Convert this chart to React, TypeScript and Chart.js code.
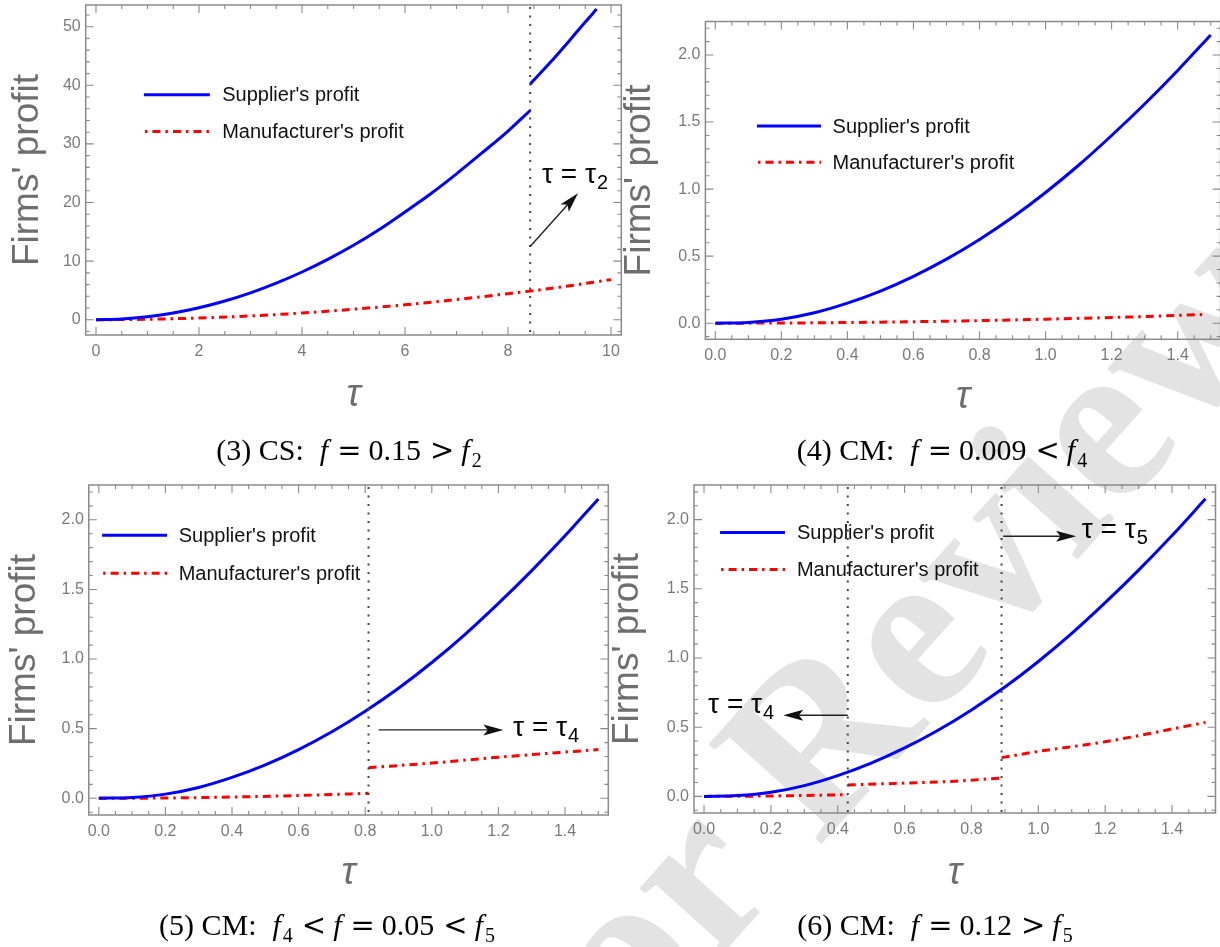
import React, { useEffect, useRef } from "react";
import { Chart, registerables } from "chart.js";

Chart.register(...registerables);
Chart.defaults.font.family = "'Liberation Sans', Arial, sans-serif";

// ---------------- data ----------------
// Panel (3) CS, f = 0.15
const p1SupTauA = [0, 0.5, 1, 1.5, 2, 2.5, 3, 3.5, 4, 4.5, 5, 5.5, 6, 6.5, 7, 7.5, 8, 8.43];
const p1SupA = [0, 0.13, 0.52, 1.15, 2.05, 3.2, 4.6, 6.25, 8.15, 10.3, 12.7, 15.4, 18.4, 21.5, 24.9, 28.5, 32.2, 35.7];
const p1SupTauB = [8.43, 8.8, 9.2, 9.5, 9.72];
const p1SupB = [40.2, 43.7, 47.7, 50.8, 53.0];
const p1ManTau = [0, 1, 2, 3, 4, 5, 6, 7, 8, 8.43, 9, 10];
const p1Man = [0, 0.08, 0.3, 0.65, 1.15, 1.8, 2.55, 3.45, 4.45, 4.9, 5.55, 6.85];

// Supplier's profit under CM (same curve in panels 4, 5, 6)
const cmTau = [0, 0.1, 0.2, 0.3, 0.4, 0.5, 0.6, 0.7, 0.8, 0.9, 1.0, 1.1, 1.2, 1.3, 1.4, 1.5];
const cmSup = [0, 0.006, 0.03, 0.078, 0.15, 0.24, 0.35, 0.478, 0.625, 0.79, 0.975, 1.178, 1.4, 1.635, 1.885, 2.15];

// Panel (4) CM, f = 0.009
const p2ManTau = [0, 0.25, 0.5, 0.75, 1.0, 1.25, 1.48];
const p2Man = [0, 0.002, 0.008, 0.017, 0.03, 0.046, 0.065];

// Panel (5) CM, f = 0.05
const p3ManTauA = [0, 0.2, 0.4, 0.6, 0.81];
const p3ManA = [0, 0.002, 0.009, 0.02, 0.036];
const p3ManTauB = [0.81, 1.0, 1.2, 1.5];
const p3ManB = [0.22, 0.253, 0.295, 0.35];

// Panel (6) CM, f = 0.12
const p4ManTauA = [0, 0.2, 0.43];
const p4ManA = [0, 0.003, 0.012];
const p4ManTauB = [0.43, 0.6, 0.75, 0.89];
const p4ManB = [0.083, 0.096, 0.11, 0.133];
const p4ManTauC = [0.89, 1.0, 1.2, 1.5];
const p4ManC = [0.28, 0.325, 0.395, 0.535];

// thresholds (dotted lines)
const p1Thresholds = [8.43];
const p3Thresholds = [0.81];
const p4Thresholds = [0.43, 0.89];

// ticks
const csXTicks = [0, 2, 4, 6, 8, 10];
const csXLabels = ["0", "2", "4", "6", "8", "10"];
const csYTicks = [0, 10, 20, 30, 40, 50];
const csYLabels = ["0", "10", "20", "30", "40", "50"];
const cmXTicks = [0, 0.2, 0.4, 0.6, 0.8, 1.0, 1.2, 1.4];
const cmXLabels = ["0.0", "0.2", "0.4", "0.6", "0.8", "1.0", "1.2", "1.4"];
const cmYTicks = [0, 0.5, 1.0, 1.5, 2.0];
const cmYLabels = ["0.0", "0.5", "1.0", "1.5", "2.0"];

const legendLabels = ["Supplier's profit", "Manufacturer's profit"];
const yTitle = "Firms' profit";
const xTitle = "τ";

// ---------------- styling ----------------
const BLUE = "rgb(0,0,255)";
const RED = "rgb(255,0,0)";
const DASHDOT = [8, 5, 2.5, 5];
const TICK_COLOR = "#7a7a7a";
const TITLE_COLOR = "#6e6e6e";
const FRAME_COLOR = "#8a8a8a";

type Series = { x: number[]; y: number[]; kind: "sup" | "man" };
type Note = { sub: string; tx: number; ty: number; ax0: number; ay0: number; ax1: number; ay1: number };
type Panel = {
  box: { left: number; top: number; w: number; h: number };
  yAxisW: number; xAxisH: number; padTop: number; padRight: number;
  yTitlePad: number; xTitlePad: number;
  xMin: number; xMax: number; yMin: number; yMax: number;
  xTicks: number[]; xLabels: string[]; yTicks: number[]; yLabels: string[];
  xMinor: number; yMinor: number;
  series: Series[];
  vlines: number[];
  legend: { x0: number; x1: number; xt: number; ySup: number; yMan: number };
  notes: Note[];
};

const panels: Panel[] = [
  {
    box: { left: 0, top: 0, w: 640, h: 420 },
    yAxisW: 85.7, xAxisH: 85, padTop: 5, padRight: 18.7, yTitlePad: 9.5, xTitlePad: 6,
    xMin: -0.2, xMax: 10.2, yMin: -2.6, yMax: 53.7,
    xTicks: csXTicks, xLabels: csXLabels, yTicks: csYTicks, yLabels: csYLabels,
    xMinor: 0.5, yMinor: 2,
    series: [
      { x: p1SupTauA, y: p1SupA, kind: "sup" },
      { x: p1SupTauB, y: p1SupB, kind: "sup" },
      { x: p1ManTau, y: p1Man, kind: "man" },
    ],
    vlines: p1Thresholds,
    legend: { x0: 0.93, x1: 2.21, xt: 2.45, ySup: 38.4, yMan: 32.1 },
    notes: [{ sub: "2", tx: 8.66, ty: 24.5, ax0: 8.43, ay0: 12.5, ax1: 9.36, ay1: 21.6 }],
  },
  {
    box: { left: 600, top: 0, w: 625, h: 420 },
    yAxisW: 105.4, xAxisH: 80.7, padTop: 21.5, padRight: 4.4, yTitlePad: 21.5, xTitlePad: 4,
    xMin: -0.03, xMax: 1.53, yMin: -0.12, yMax: 2.25,
    xTicks: cmXTicks, xLabels: cmXLabels, yTicks: cmYTicks, yLabels: cmYLabels,
    xMinor: 0.05, yMinor: 0.1,
    series: [
      { x: cmTau, y: cmSup, kind: "sup" },
      { x: p2ManTau, y: p2Man, kind: "man" },
    ],
    vlines: [],
    legend: { x0: 0.126, x1: 0.32, xt: 0.355, ySup: 1.47, yMan: 1.2 },
    notes: [],
  },
  {
    box: { left: 0, top: 470, w: 640, h: 440 },
    yAxisW: 88.8, xAxisH: 95, padTop: 15, padRight: 31.7, yTitlePad: 6.5, xTitlePad: 18,
    xMin: -0.03, xMax: 1.53, yMin: -0.12, yMax: 2.25,
    xTicks: cmXTicks, xLabels: cmXLabels, yTicks: cmYTicks, yLabels: cmYLabels,
    xMinor: 0.05, yMinor: 0.1,
    series: [
      { x: cmTau, y: cmSup, kind: "sup" },
      { x: p3ManTauA, y: p3ManA, kind: "man" },
      { x: p3ManTauB, y: p3ManB, kind: "man" },
    ],
    vlines: p3Thresholds,
    legend: { x0: 0.01, x1: 0.205, xt: 0.24, ySup: 1.89, yMan: 1.617 },
    notes: [{ sub: "4", tx: 1.244, ty: 0.498, ax0: 0.84, ay0: 0.491, ax1: 1.215, ay1: 0.491 }],
  },
  {
    box: { left: 600, top: 470, w: 625, h: 440 },
    yAxisW: 94, xAxisH: 97, padTop: 15, padRight: 9.5, yTitlePad: 9.5, xTitlePad: 18,
    xMin: -0.03, xMax: 1.53, yMin: -0.12, yMax: 2.25,
    xTicks: cmXTicks, xLabels: cmXLabels, yTicks: cmYTicks, yLabels: cmYLabels,
    xMinor: 0.05, yMinor: 0.1,
    series: [
      { x: cmTau, y: cmSup, kind: "sup" },
      { x: p4ManTauA, y: p4ManA, kind: "man" },
      { x: p4ManTauB, y: p4ManB, kind: "man" },
      { x: p4ManTauC, y: p4ManC, kind: "man" },
    ],
    vlines: p4Thresholds,
    legend: { x0: 0.048, x1: 0.242, xt: 0.278, ySup: 1.907, yMan: 1.64 },
    notes: [
      { sub: "4", tx: 0.012, ty: 0.651, ax0: 0.43, ay0: 0.586, ax1: 0.237, ay1: 0.586 },
      { sub: "5", tx: 1.13, ty: 1.915, ax0: 0.895, ay0: 1.88, ax1: 1.113, ay1: 1.88 },
    ],
  },
];

function pts(xs: number[], ys: number[]) {
  return xs.map((x, i) => ({ x, y: ys[i] }));
}

function drawArrow(ctx: CanvasRenderingContext2D, x1: number, y1: number, x2: number, y2: number) {
  const ang = Math.atan2(y2 - y1, x2 - x1);
  const L = 20, W = 5.5;
  const c = Math.cos(ang), s = Math.sin(ang);
  ctx.strokeStyle = "#222";
  ctx.fillStyle = "#111";
  ctx.lineWidth = 1.4;
  ctx.setLineDash([]);
  ctx.beginPath();
  ctx.moveTo(x1, y1);
  ctx.lineTo(x2 - L * 0.7 * c, y2 - L * 0.7 * s);
  ctx.stroke();
  ctx.beginPath();
  ctx.moveTo(x2, y2);
  ctx.lineTo(x2 - L * c + W * s, y2 - L * s - W * c);
  ctx.lineTo(x2 - L * 0.78 * c, y2 - L * 0.78 * s);
  ctx.lineTo(x2 - L * c - W * s, y2 - L * s + W * c);
  ctx.closePath();
  ctx.fill();
}

function makeDecor(p: Panel) {
  return {
    id: "decor",
    afterDraw(chart: any) {
      const ctx: CanvasRenderingContext2D = chart.ctx;
      const a = chart.chartArea;
      const xs = chart.scales.x;
      const ys = chart.scales.y;
      ctx.save();
      // frame
      ctx.strokeStyle = FRAME_COLOR;
      ctx.lineWidth = 1.5;
      ctx.setLineDash([]);
      ctx.strokeRect(a.left, a.top, a.right - a.left, a.bottom - a.top);
      // ticks (inward, all four sides)
      ctx.lineWidth = 1.1;
      ctx.beginPath();
      const xStart = Math.ceil(p.xMin / p.xMinor - 1e-9);
      for (let k = xStart; k * p.xMinor <= p.xMax + 1e-9; k++) {
        const v = k * p.xMinor;
        const major = p.xTicks.some((t) => Math.abs(t - v) < 1e-6);
        const len = major ? 8 : 4;
        const px = xs.getPixelForValue(v);
        ctx.moveTo(px, a.bottom); ctx.lineTo(px, a.bottom - len);
        ctx.moveTo(px, a.top); ctx.lineTo(px, a.top + len);
      }
      const yStart = Math.ceil(p.yMin / p.yMinor - 1e-9);
      for (let k = yStart; k * p.yMinor <= p.yMax + 1e-9; k++) {
        const v = k * p.yMinor;
        const major = p.yTicks.some((t) => Math.abs(t - v) < 1e-6);
        const len = major ? 8 : 4;
        const py = ys.getPixelForValue(v);
        ctx.moveTo(a.left, py); ctx.lineTo(a.left + len, py);
        ctx.moveTo(a.right, py); ctx.lineTo(a.right - len, py);
      }
      ctx.stroke();
      // dotted threshold lines
      ctx.strokeStyle = "#444";
      ctx.lineWidth = 2;
      ctx.setLineDash([2, 6.5]);
      for (const v of p.vlines) {
        const px = xs.getPixelForValue(v);
        ctx.beginPath();
        ctx.moveTo(px, a.top + 2);
        ctx.lineTo(px, a.bottom);
        ctx.stroke();
      }
      // legend
      const lx0 = xs.getPixelForValue(p.legend.x0);
      const lx1 = xs.getPixelForValue(p.legend.x1);
      const lxt = xs.getPixelForValue(p.legend.xt);
      const yS = ys.getPixelForValue(p.legend.ySup);
      const yM = ys.getPixelForValue(p.legend.yMan);
      ctx.lineWidth = 3;
      ctx.setLineDash([]);
      ctx.strokeStyle = BLUE;
      ctx.beginPath(); ctx.moveTo(lx0, yS); ctx.lineTo(lx1, yS); ctx.stroke();
      ctx.strokeStyle = RED;
      ctx.setLineDash(DASHDOT);
      ctx.lineDashOffset = 12;
      ctx.beginPath(); ctx.moveTo(lx0, yM); ctx.lineTo(lx1, yM); ctx.stroke();
      ctx.setLineDash([]);
      ctx.lineDashOffset = 0;
      ctx.fillStyle = "#111";
      ctx.font = "20px 'Liberation Sans', Arial, sans-serif";
      ctx.textBaseline = "middle";
      ctx.textAlign = "left";
      ctx.fillText(legendLabels[0], lxt, yS + 1);
      ctx.fillText(legendLabels[1], lxt, yM + 1);
      // annotations
      for (const n of p.notes) {
        drawArrow(ctx, xs.getPixelForValue(n.ax0), ys.getPixelForValue(n.ay0), xs.getPixelForValue(n.ax1), ys.getPixelForValue(n.ay1));
        const tx = xs.getPixelForValue(n.tx);
        const ty = ys.getPixelForValue(n.ty);
        ctx.fillStyle = "#000";
        ctx.textBaseline = "alphabetic";
        ctx.font = "28px 'Liberation Sans', Arial, sans-serif";
        const main = "τ = τ";
        ctx.fillText(main, tx, ty + 7);
        const w = ctx.measureText(main).width;
        ctx.font = "20px 'Liberation Sans', Arial, sans-serif";
        ctx.fillText(n.sub, tx + w + 1, ty + 13);
      }
      ctx.restore();
    },
  };
}

function buildConfig(p: Panel): any {
  return {
    type: "line",
    data: {
      datasets: p.series.map((s) => ({
        data: pts(s.x, s.y),
        borderColor: s.kind === "sup" ? BLUE : RED,
        borderWidth: 3,
        borderDash: s.kind === "sup" ? [] : DASHDOT,
        borderCapStyle: "butt",
        pointRadius: 0,
        fill: false,
        cubicInterpolationMode: "monotone",
      })),
    },
    options: {
      responsive: false,
      animation: false,
      devicePixelRatio: 1,
      events: [],
      layout: { padding: { left: 0, top: p.padTop, right: p.padRight, bottom: 0 } },
      plugins: { legend: { display: false }, tooltip: { enabled: false } },
      scales: {
        x: {
          type: "linear",
          min: p.xMin,
          max: p.xMax,
          grid: { display: false, drawTicks: false },
          border: { display: false },
          afterBuildTicks: (s: any) => {
            s.ticks = p.xTicks.map((v) => ({ value: v }));
          },
          afterFit: (s: any) => {
            s.height = p.xAxisH;
            s.paddingLeft = 0;
            s.paddingRight = 0;
          },
          ticks: {
            autoSkip: false,
            maxRotation: 0,
            padding: 6.5,
            color: TICK_COLOR,
            font: { size: 16 },
            callback: (_v: any, i: number) => p.xLabels[i],
          },
          title: {
            display: true,
            text: xTitle,
            color: TITLE_COLOR,
            font: { size: 38, style: "italic", lineHeight: 1 },
            padding: { top: 0, bottom: p.xTitlePad },
          },
        },
        y: {
          type: "linear",
          min: p.yMin,
          max: p.yMax,
          grid: { display: false, drawTicks: false },
          border: { display: false },
          afterBuildTicks: (s: any) => {
            s.ticks = p.yTicks.map((v) => ({ value: v }));
          },
          afterFit: (s: any) => {
            s.width = p.yAxisW;
            s.paddingTop = 0;
            s.paddingBottom = 0;
          },
          ticks: {
            autoSkip: false,
            padding: 5,
            color: TICK_COLOR,
            font: { size: 16 },
            callback: (_v: any, i: number) => p.yLabels[i],
          },
          title: {
            display: true,
            text: yTitle,
            color: TITLE_COLOR,
            font: { size: 37, lineHeight: 1 },
            padding: { top: p.yTitlePad, bottom: 0 },
          },
        },
      },
    },
    plugins: [makeDecor(p)],
  };
}

function PanelChart({ p }: { p: Panel }) {
  const ref = useRef<HTMLCanvasElement>(null);
  useEffect(() => {
    const chart = new Chart(ref.current as HTMLCanvasElement, buildConfig(p));
    return () => chart.destroy();
  }, []);
  return (
    <canvas
      ref={ref}
      width={p.box.w}
      height={p.box.h}
      style={{ position: "absolute", left: p.box.left, top: p.box.top, width: p.box.w, height: p.box.h }}
    />
  );
}

const serif = "'Liberation Serif', 'Times New Roman', serif";
const opFont = "'DejaVu Serif', serif";

function F() {
  return <i style={{ fontFamily: serif }}>f</i>;
}
function Op({ c }: { c: string }) {
  return <span style={{ fontFamily: opFont, fontSize: 29, margin: "0 7px 0 9px" }}>{c}</span>;
}
function Sub({ c }: { c: string }) {
  return <span style={{ fontSize: 20, position: "relative", top: 7, marginLeft: 2 }}>{c}</span>;
}

function Caption({ cx, top, children }: { cx: number; top: number; children: React.ReactNode }) {
  return (
    <div
      style={{
        position: "absolute",
        left: cx,
        top,
        transform: "translateX(-50%)",
        whiteSpace: "nowrap",
        fontFamily: serif,
        fontSize: 30,
        lineHeight: "30px",
        color: "#000",
      }}
    >
      {children}
    </div>
  );
}

export default function App() {
  return (
    <div
      style={{
        position: "absolute",
        left: 0,
        top: 0,
        width: 1220,
        height: 947,
        overflow: "hidden",
        background: "#fff",
      }}
    >
      <span
        style={{
          position: "absolute",
          left: 400,
          top: 1025,
          fontFamily: serif,
          fontWeight: "bold",
          fontSize: 230,
          lineHeight: 1,
          color: "#e3e3e3",
          whiteSpace: "nowrap",
          transform: "rotate(-48deg)",
          transformOrigin: "0 0",
        }}
      >
        For Review Only
      </span>
      {panels.map((p, i) => (
        <PanelChart key={i} p={p} />
      ))}
      <Caption cx={349} top={435}>
        (3) CS:<span style={{ marginLeft: 16 }} />
        <F />
        <Op c="=" />
        0.15
        <Op c=">" />
        <F />
        <Sub c="2" />
      </Caption>
      <Caption cx={942} top={435}>
        (4) CM:<span style={{ marginLeft: 16 }} />
        <F />
        <Op c="=" />
        0.009
        <Op c="<" />
        <F />
        <Sub c="4" />
      </Caption>
      <Caption cx={327} top={910}>
        (5) CM:<span style={{ marginLeft: 16 }} />
        <F />
        <Sub c="4" />
        <Op c="<" />
        <F />
        <Op c="=" />
        0.05
        <Op c="<" />
        <F />
        <Sub c="5" />
      </Caption>
      <Caption cx={935} top={910}>
        (6) CM:<span style={{ marginLeft: 16 }} />
        <F />
        <Op c="=" />
        0.12
        <Op c=">" />
        <F />
        <Sub c="5" />
      </Caption>
    </div>
  );
}
